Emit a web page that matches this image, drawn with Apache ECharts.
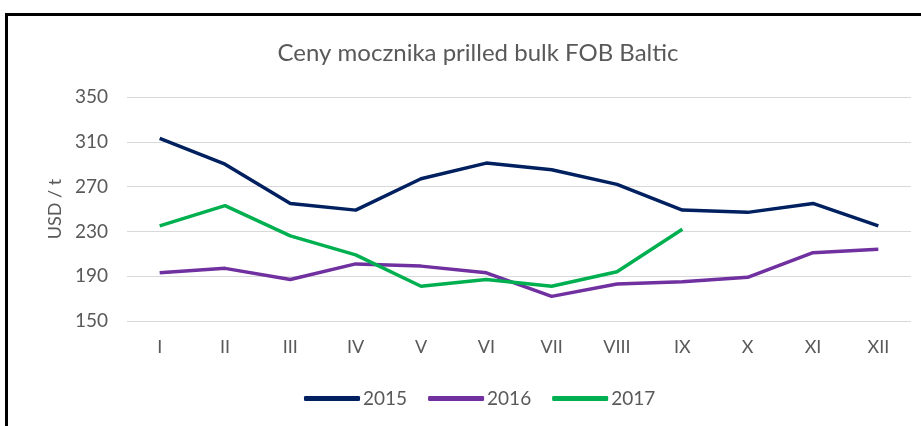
<!DOCTYPE html>
<html>
<head>
<meta charset="utf-8">
<script src="https://cdn.jsdelivr.net/npm/echarts@6/dist/echarts.min.js"></script>
<style>
  html, body { margin: 0; padding: 0; background: #fff; }
  #frame { position: absolute; left: 5px; top: 13px; width: 930px; height: 430px;
           border-left: 3px solid #000; border-top: 3px solid #000; }
  #chart { position: absolute; left: 0; top: 0; width: 921px; height: 426px; }
</style>
</head>
<body>
<div id="frame"></div>
<div id="chart"></div>
<script>
// miesiące
const months = ["I", "II", "III", "IV", "V", "VI", "VII", "VIII", "IX", "X", "XI", "XII"];
// ceny USD/t
const y2015 = [313, 290, 255, 249, 277, 291, 285, 272, 249, 247, 255, 235];
const y2016 = [193, 197, 187, 201, 199, 193, 172, 183, 185, 189, 211, 214];
const y2017 = [235, 253, 226, 209, 181, 187, 181, 194, 232];
const yTicks = [150, 190, 230, 270, 310, 350];

const chart = echarts.init(document.getElementById("chart"));
const font = "Lato, 'Open Sans', sans-serif";
const grey = "#595959";

const mkLine = (name, data, color) => ({
  name: name,
  type: "line",
  data: data,
  symbol: "none",
  lineStyle: { color: color, width: 3.5 },
  itemStyle: { color: color },
});

const option = {
  animation: false,
  title: {
    text: "Ceny mocznika prilled bulk FOB Baltic",
    left: 473,
    textAlign: "center",
    top: 36,
    textStyle: { fontFamily: font, fontSize: 24, fontWeight: "normal", color: grey },
  },
  legend: {
    top: 384,
    left: 299,
    itemWidth: 56,
    itemHeight: 5,
    itemGap: 21,
    icon: "roundRect",
    textStyle: { fontFamily: font, fontSize: 19, color: grey, padding: [0, 0, 0, -2] },
    data: ["2015", "2016", "2017"],
  },
  grid: { left: 127, right: 10, top: 97, bottom: 105, containLabel: false },
  xAxis: {
    type: "category",
    data: months,
    boundaryGap: true,
    axisLine: { show: false },
    axisTick: { show: false },
    axisLabel: { fontFamily: font, fontSize: 18, color: grey, margin: 17 },
  },
  yAxis: {
    type: "value",
    min: yTicks[0],
    max: yTicks[yTicks.length - 1],
    interval: 40,
    name: "USD / t",
    nameLocation: "middle",
    nameRotate: 90,
    nameGap: 62,
    nameTextStyle: { fontFamily: font, fontSize: 18, color: grey },
    axisLine: { show: false },
    axisTick: { show: false },
    axisLabel: { fontFamily: font, fontSize: 19, color: grey, margin: 19 },
    splitLine: { lineStyle: { color: "#d9d9d9", width: 1 } },
  },
  series: [
    mkLine("2015", y2015, "#002060"),
    mkLine("2016", y2016, "#7030A0"),
    mkLine("2017", y2017, "#00B050"),
  ],
};
chart.setOption(option);
</script>
</body>
</html>
